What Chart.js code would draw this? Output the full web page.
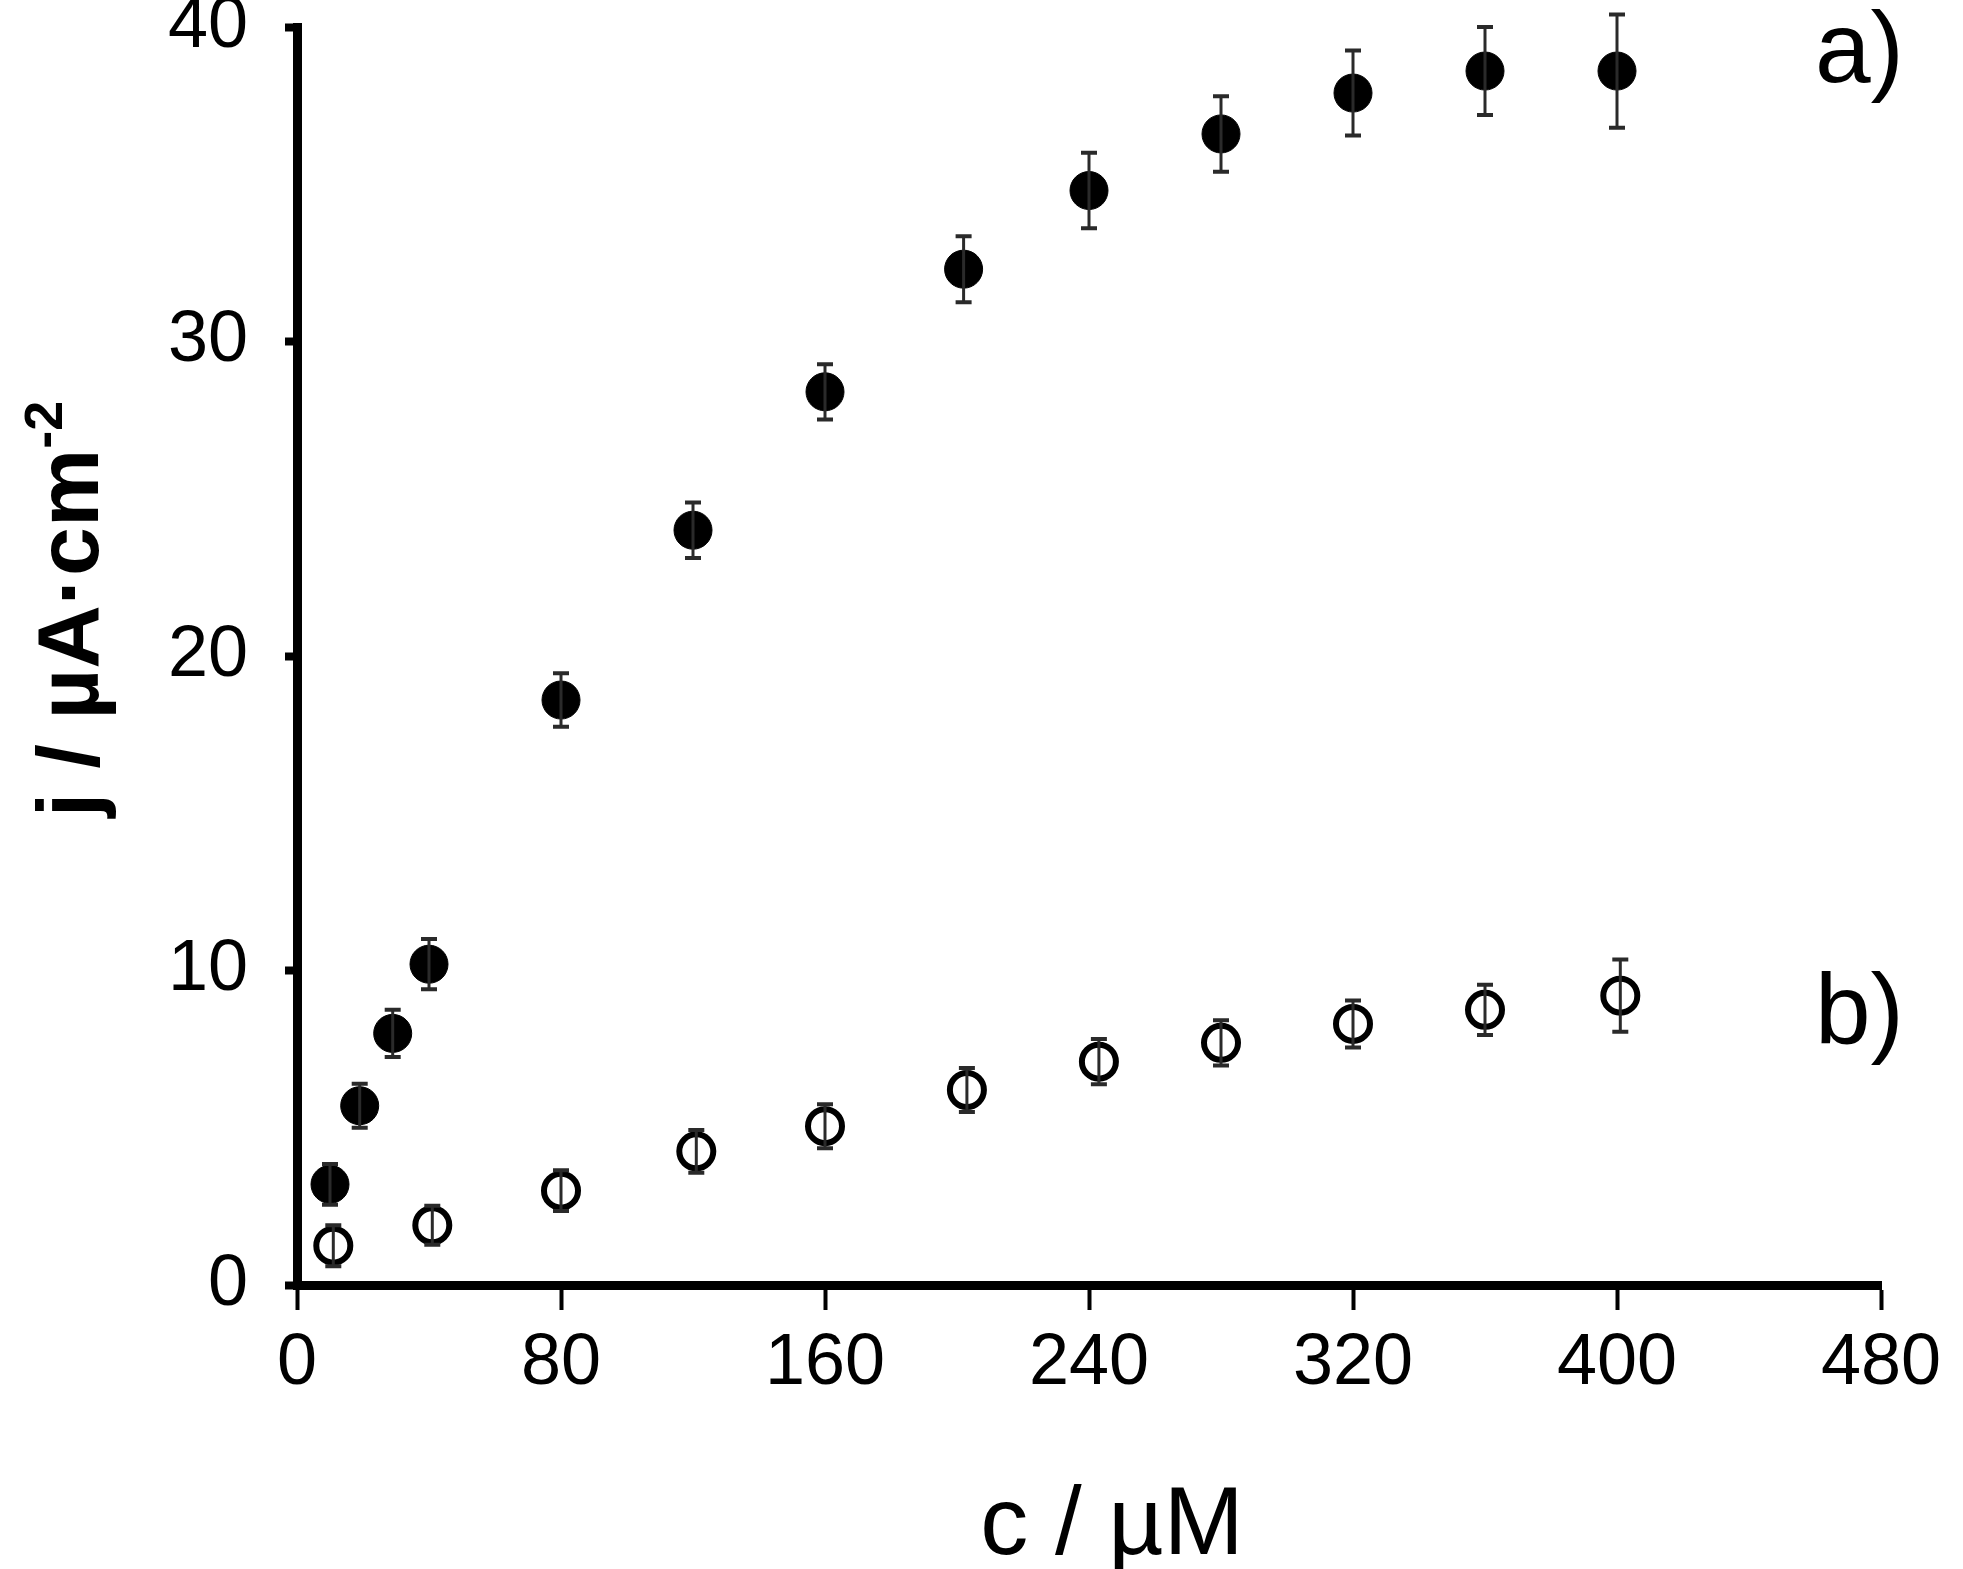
<!DOCTYPE html>
<html>
<head>
<meta charset="utf-8">
<script src="https://cdn.jsdelivr.net/npm/chart.js@4.4.1/dist/chart.umd.min.js"></script>
<style>
  html, body { margin: 0; padding: 0; background: #fff; }
  #wrap { width: 1963px; height: 1569px; }
</style>
</head>
<body>
<div id="wrap"><canvas id="jChart" width="1963" height="1569"></canvas></div>
<script>
// a) filled circles
const concA = [10, 19, 29, 40, 80, 120, 160, 202, 240, 280, 320, 360, 400];
const currentA = [3.2, 5.7, 8.0, 10.2, 18.6, 24.0, 28.4, 32.3, 34.8, 36.6, 37.9, 38.6, 38.6];
const errorA = [0.65, 0.7, 0.75, 0.8, 0.85, 0.88, 0.88, 1.05, 1.2, 1.2, 1.35, 1.4, 1.8];

// b) open circles
const concB = [11, 41, 80, 121, 160, 203, 243, 280, 320, 360, 401];
const currentB = [1.25, 1.9, 3.0, 4.25, 5.05, 6.2, 7.1, 7.7, 8.3, 8.75, 9.2];
const errorB = [0.65, 0.62, 0.65, 0.68, 0.7, 0.7, 0.72, 0.72, 0.75, 0.8, 1.15];

const xTicks = [0, 80, 160, 240, 320, 400, 480];
const yTicks = [0, 10, 20, 30, 40];

const xTitle = 'c / \u00B5M';
const yTitle = 'j / \u00B5A\u00B7cm';
const yTitleSup = '-2';
const panelLabels = [
    { text: 'a)', x: 460, y: 38.25 },
    { text: 'b)', x: 460, y: 7.66 }
];

const FONT = '"Liberation Sans", Arial, Helvetica, sans-serif';

const toPoints = (xs, ys) => xs.map((x, i) => ({ x: x, y: ys[i] }));

const errorBars = {
    id: 'errorBars',
    afterDatasetsDraw(chart) {
        const ctx = chart.ctx;
        const xs = chart.scales.x, ys = chart.scales.y;
        chart.data.datasets.forEach(ds => {
            ctx.save();
            ctx.strokeStyle = '#2a2a2a';
            ds.data.forEach((p, i) => {
                const e = ds.errors[i];
                const px = xs.getPixelForValue(p.x);
                const top = ys.getPixelForValue(p.y + e);
                const bot = ys.getPixelForValue(p.y - e);
                ctx.lineWidth = 3;
                ctx.beginPath();
                ctx.moveTo(px, top);
                ctx.lineTo(px, bot);
                ctx.stroke();
                ctx.lineWidth = 4;
                ctx.beginPath();
                ctx.moveTo(px - 8, top); ctx.lineTo(px + 8, top);
                ctx.moveTo(px - 8, bot); ctx.lineTo(px + 8, bot);
                ctx.stroke();
            });
            ctx.restore();
        });
    }
};

const titles = {
    id: 'titles',
    afterDraw(chart) {
        const { ctx, chartArea, scales } = chart;
        ctx.save();
        ctx.fillStyle = '#000';
        ctx.textBaseline = 'alphabetic';

        // x axis title
        ctx.font = '96px ' + FONT;
        ctx.textAlign = 'center';
        ctx.fillText(xTitle, (chartArea.left + chartArea.right) / 2 + 23, chart.height - 15);

        // panel labels
        ctx.font = '100px ' + FONT;
        ctx.textAlign = 'left';
        panelLabels.forEach(l => {
            ctx.fillText(l.text, scales.x.getPixelForValue(l.x), scales.y.getPixelForValue(l.y));
        });

        // y axis title with superscript
        ctx.save();
        ctx.translate(98, (chartArea.top + chartArea.bottom) / 2 - 47);
        ctx.rotate(-Math.PI / 2);
        const mainFont = 'bold 88px ' + FONT;
        const supFont = 'bold 54px ' + FONT;
        ctx.font = mainFont;
        const w1 = ctx.measureText(yTitle).width;
        ctx.font = supFont;
        const w2 = ctx.measureText(yTitleSup).width;
        const start = -(w1 + w2) / 2;
        ctx.textAlign = 'left';
        ctx.font = mainFont;
        ctx.fillText(yTitle, start, 0);
        ctx.font = supFont;
        ctx.fillText(yTitleSup, start + w1, -36);
        ctx.restore();

        ctx.restore();
    }
};

const ctx = document.getElementById('jChart').getContext('2d');
new Chart(ctx, {
    type: 'scatter',
    data: {
        datasets: [
            {
                label: 'a)',
                data: toPoints(concA, currentA),
                errors: errorA,
                pointStyle: 'circle',
                pointRadius: 19,
                pointBackgroundColor: '#000',
                pointBorderColor: '#000',
                pointBorderWidth: 1
            },
            {
                label: 'b)',
                data: toPoints(concB, currentB),
                errors: errorB,
                pointStyle: 'circle',
                pointRadius: 17,
                pointBackgroundColor: 'rgba(255,255,255,0)',
                pointBorderColor: '#000',
                pointBorderWidth: 6
            }
        ]
    },
    options: {
        responsive: false,
        devicePixelRatio: 1,
        animation: false,
        layout: { padding: { top: 27, right: 82, left: 0, bottom: 0 } },
        plugins: {
            legend: { display: false },
            tooltip: { enabled: false }
        },
        scales: {
            x: {
                type: 'linear',
                min: 0,
                max: 480,
                afterBuildTicks: s => { s.ticks = xTicks.map(v => ({ value: v })); },
                afterFit: s => { s.height = 284; s.paddingLeft = 0; s.paddingRight = 0; },
                border: { display: true, color: '#000', width: 9 },
                grid: { drawOnChartArea: false, drawTicks: true, tickLength: 25, tickWidth: 4, tickColor: '#000' },
                ticks: { color: '#000', padding: 11, maxRotation: 0, font: { family: FONT, size: 72 } }
            },
            y: {
                type: 'linear',
                min: 0,
                max: 40,
                afterBuildTicks: s => { s.ticks = yTicks.map(v => ({ value: v })); },
                afterFit: s => { s.width = 297; s.paddingTop = 0; s.paddingBottom = 0; },
                border: { display: true, color: '#000', width: 9 },
                grid: { drawOnChartArea: false, drawTicks: true, tickLength: 12, tickWidth: 8, tickColor: '#000' },
                ticks: { color: '#000', padding: 37, font: { family: FONT, size: 72 } }
            }
        }
    },
    plugins: [errorBars, titles]
});
</script>
</body>
</html>
